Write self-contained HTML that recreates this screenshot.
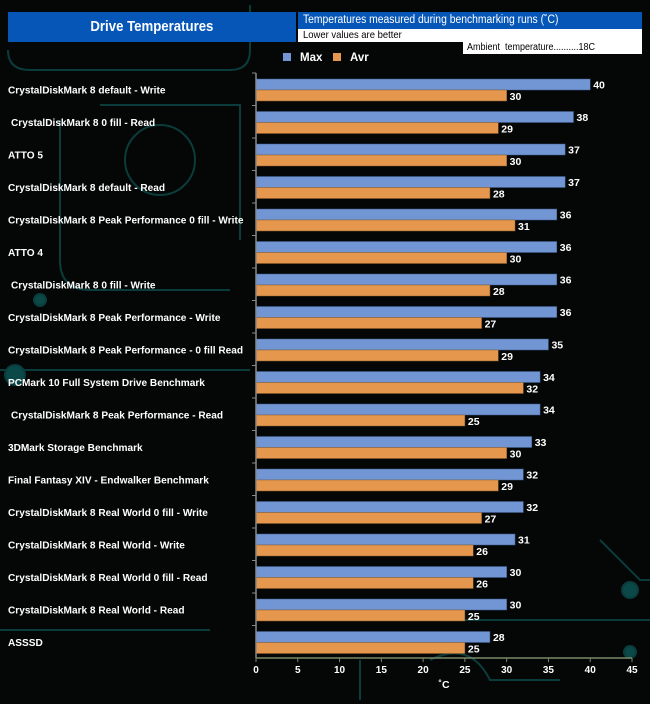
<!DOCTYPE html>
<html><head><meta charset="utf-8"><style>
html,body{margin:0;padding:0;background:#050606;}
#c{position:relative;width:650px;height:704px;overflow:hidden;background:#050606;font-family:"Liberation Sans",Arial,sans-serif;}
svg{position:absolute;left:0;top:0}
</style></head><body>
<div id="c">
<svg id="s" width="650" height="704">
<g stroke="#0d4a4a" stroke-width="2" fill="none" opacity="0.8">
<path d="M8 50 Q8 70 30 70 L230 70 Q250 70 250 50 L250 5"/>
<path d="M60 120 L60 260 Q60 290 90 290 L230 290"/>
<path d="M100 105 L240 105 L240 240"/>
<circle cx="160" cy="160" r="35"/>
<path d="M0 370 L250 370"/>
<path d="M0 630 L210 630"/>
<path d="M360 700 L360 660"/>
<path d="M430 660 Q470 640 490 680 L560 680"/>
<path d="M600 540 L640 580 L650 580"/>
<path d="M260 620 L650 620"/>
<circle cx="630" cy="590" r="8" fill="#0d5a5a"/>
<circle cx="630" cy="652" r="6" fill="#0d5a5a"/>
<circle cx="40" cy="300" r="6" fill="#0d5a5a"/>
<circle cx="15" cy="375" r="10" fill="#0d5a5a"/>
</g>
<g id="plot"></g>
</svg>
<div style="position:absolute;left:8px;top:12px;width:288px;height:30px;background:#0656b8;color:#fff;font-weight:bold;font-size:15px;line-height:30px;text-align:center;"><span style="display:inline-block;transform:scaleX(0.88)">Drive Temperatures</span></div>
<div style="position:absolute;left:298px;top:12px;width:344px;height:17px;background:#0656b8;color:#fff;font-size:11.5px;line-height:17px;padding-left:5px;box-sizing:border-box;white-space:nowrap;"><span style="display:inline-block;transform:scaleX(0.9);transform-origin:left">Temperatures measured during benchmarking runs (˚C)</span></div>
<div style="position:absolute;left:298px;top:29px;width:344px;height:13px;background:#fff;color:#000;font-size:10.5px;line-height:13px;padding-left:5px;box-sizing:border-box;"><span style="display:inline-block;transform:scaleX(0.9);transform-origin:left">Lower values are better</span></div>
<div style="position:absolute;left:463px;top:42px;width:179px;height:12px;background:#fff;color:#000;font-size:10px;line-height:12px;padding-left:4px;box-sizing:border-box;white-space:nowrap;"><span style="display:inline-block;transform:scaleX(0.9);transform-origin:left">Ambient&nbsp; temperature..........18C</span></div>
<div style="position:absolute;left:283px;top:52px;color:#fff;font-weight:bold;font-size:11.5px;"><span style="display:inline-block;width:8px;height:8px;background:#7196d3;margin-right:9px"></span>Max</div>
<div style="position:absolute;left:333px;top:52px;color:#fff;font-weight:bold;font-size:11.5px;"><span style="display:inline-block;width:8px;height:8px;background:#e5974e;margin-right:9px"></span>Avr</div>
</div>
<script>
const categories=["CrystalDiskMark 8 default - Write","CrystalDiskMark 8 0 fill - Read","ATTO 5","CrystalDiskMark 8 default - Read","CrystalDiskMark 8 Peak Performance 0 fill - Write","ATTO 4","CrystalDiskMark 8 0 fill - Write","CrystalDiskMark 8 Peak Performance - Write","CrystalDiskMark 8 Peak Performance - 0 fill Read","PCMark 10 Full System Drive Benchmark","CrystalDiskMark 8 Peak Performance - Read","3DMark Storage Benchmark","Final Fantasy XIV -  Endwalker Benchmark","CrystalDiskMark 8 Real World 0 fill - Write","CrystalDiskMark 8 Real World - Write","CrystalDiskMark 8 Real World 0 fill - Read","CrystalDiskMark 8 Real World - Read","ASSSD"];
const labelIndent=[0,1,0,0,0,0,1,0,0,0,1,0,0,0,0,0,0,0];
const maxValues=[40,38,37,37,36,36,36,36,35,34,34,33,32,32,31,30,30,28];
const avrValues=[30,29,30,28,31,30,28,27,29,32,25,30,29,27,26,26,25,25];
const xTicks=[0,5,10,15,20,25,30,35,40,45];
const NS="http://www.w3.org/2000/svg";
const g=document.getElementById('plot');
const x0=256,x1=632,xMax=45,yTop=73,yBot=658;
const band=(yBot-yTop)/categories.length;
const xs=v=>x0+(v/xMax)*(x1-x0);
const yb=i=>yTop+i*band;
function mk(t,a){const e=document.createElementNS(NS,t);for(const k in a)e.setAttribute(k,a[k]);g.appendChild(e);return e;}
categories.forEach((c,i)=>{
  const y=yb(i);
  const r1=mk('rect',{x:x0,y:y+6,width:xs(maxValues[i])-x0,height:11,fill:'#7196d3',stroke:'#3d5a8a','stroke-width':0.5});
  
  
  const r2=mk('rect',{x:x0,y:y+17,width:xs(avrValues[i])-x0,height:11,fill:'#e5974e',stroke:'#8a5a2a','stroke-width':0.5});
  
  
  const t1=mk('text',{x:xs(maxValues[i])+3,y:y+15.5,fill:'#fff','font-size':10.5,'font-weight':'bold'});t1.textContent=maxValues[i];
  
  
  const t2=mk('text',{x:xs(avrValues[i])+3,y:y+27,fill:'#fff','font-size':10.5,'font-weight':'bold'});t2.textContent=avrValues[i];
  
  
  const cl=mk('text',{x:8+labelIndent[i]*3,y:y+band/2+4,fill:'#fff','font-size':10.1,'font-weight':'bold'});cl.textContent=c;
  
  
  mk('line',{x1:x0-4,x2:x0,y1:y,y2:y,stroke:'#888'});
});
const ya=mk('line',{x1:x0,x2:x0,y1:yTop,y2:yBot,stroke:'#888','stroke-width':1.5});


const xa=mk('line',{x1:x0,x2:x1,y1:yBot,y2:yBot,stroke:'#7a8a6a','stroke-width':1.5});


xTicks.forEach(v=>{
  mk('line',{x1:xs(v),x2:xs(v),y1:yBot,y2:yBot+4,stroke:'#7a8a6a'});
  const t=mk('text',{x:xs(v),y:yBot+15,fill:'#fff','font-size':10,'font-weight':'bold','text-anchor':'middle'});t.textContent=v;
  
  
});
const xt=mk('text',{x:444,y:688,fill:'#fff','font-size':10.5,'font-weight':'bold','text-anchor':'middle'});xt.textContent='˚C';


</script>
</body></html>
